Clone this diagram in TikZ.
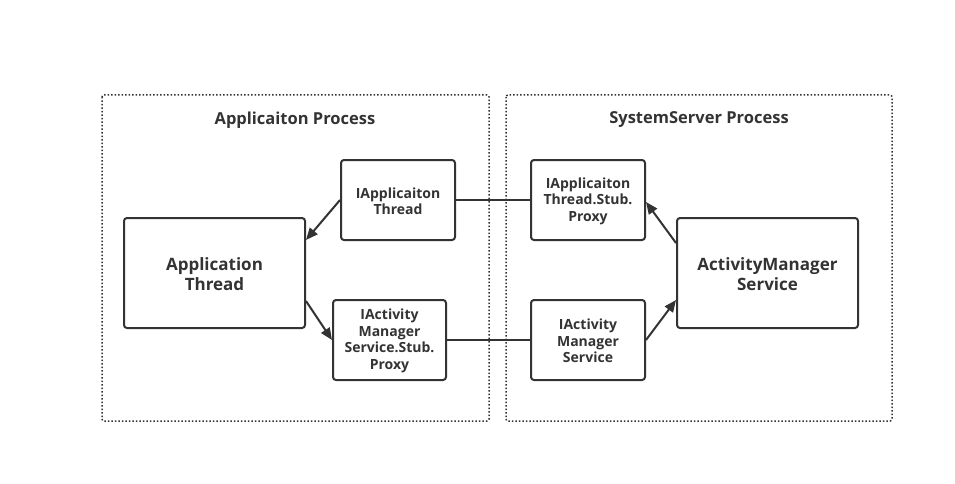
\documentclass[tikz,border=0pt]{standalone}
\usepackage{fontspec}
\setmainfont{Open Sans}
\usetikzlibrary{arrows.meta}
\definecolor{ink}{HTML}{333333}
\begin{document}
\begin{tikzpicture}[x=1pt,y=-1pt,
  container/.style={draw=ink,line width=1.5pt,dash pattern=on 1.5pt off 2pt,rounded corners=2pt},
  box/.style={draw=ink,line width=2pt,rounded corners=3pt,text=ink,font=\bfseries,align=center,inner sep=0pt},
  bigtxt/.style={font=\fontsize{17}{20}\selectfont\bfseries},
  smalltxt/.style={font=\fontsize{14}{16.5}\selectfont\bfseries},
  title/.style={text=ink,font=\fontsize{16.5}{19}\selectfont\bfseries},
  link/.style={draw=ink,line width=2pt},
  arr/.style={link,-{Triangle[length=12pt,width=10pt]}}]
\useasboundingbox (0,0) rectangle (955,484);
\fill[white] (0,0) rectangle (955,484);
\draw[container] (102,95) rectangle (489,421);
\draw[container] (506,95) rectangle (892,421);
\node[title] (t1) at (295,120) {Applicaiton Process};
\node[title] (t2) at (699,120) {SystemServer Process};
\draw[box] (124,218) rectangle (305,328);
\node[box,draw=none,bigtxt,minimum width=181pt,minimum height=110pt] (at) at (214.5,274) {Application\\Thread};
\draw[box] (341,160) rectangle (455,240);
\node[box,draw=none,smalltxt,minimum width=114pt,minimum height=80pt] (iat) at (398,201) {IApplicaiton\\Thread};
\draw[box] (333,300) rectangle (446,380);
\node[box,draw=none,smalltxt,minimum width=113pt,minimum height=80pt] (iamsp) at (389.5,341) {IActivity\\Manager\\Service.Stub.\\Proxy};
\draw[box] (531,160) rectangle (645,240);
\node[box,draw=none,smalltxt,minimum width=114pt,minimum height=80pt] (iatsp) at (588,201) {IApplicaiton\\Thread.Stub.\\Proxy};
\draw[box] (531,300) rectangle (645,380);
\node[box,draw=none,smalltxt,minimum width=114pt,minimum height=80pt] (iams) at (588,341) {IActivity\\Manager\\Service};
\draw[box] (677,218) rectangle (858,328);
\node[box,draw=none,bigtxt,minimum width=181pt,minimum height=110pt] (ams) at (767.5,274) {ActivityManager\\Service};
\draw[arr] (iat.west |- 0,200) -- (at.east |- 0,240);
\draw[arr] (at.east |- 0,301) -- (iamsp.west |- 0,340);
\draw[link] (iat.east |- 0,200) -- (iatsp.west |- 0,200);
\draw[link] (iamsp.east |- 0,340) -- (iams.west |- 0,340);
\draw[arr] (iams.east |- 0,340) -- (ams.west |- 0,300);
\draw[arr] (ams.west |- 0,243) -- (iatsp.east |- 0,202);
\end{tikzpicture}
\end{document}
